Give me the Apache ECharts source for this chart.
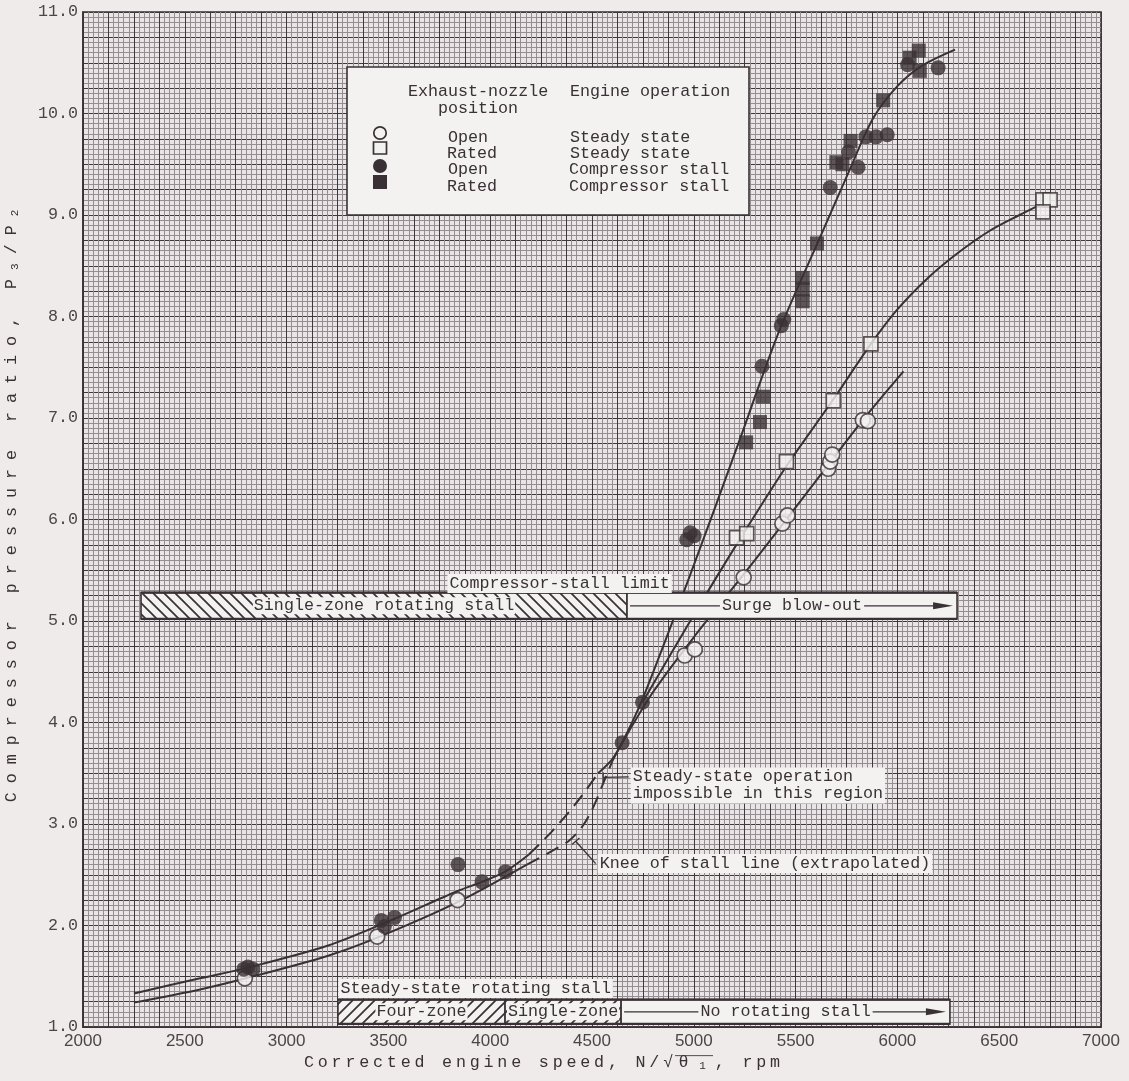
<!DOCTYPE html>
<html>
<head>
<meta charset="utf-8">
<script src="https://cdn.jsdelivr.net/npm/echarts@6/dist/echarts.min.js"></script>
<style>
  html, body { margin: 0; padding: 0; background: #efebeb; }
  #chart { width: 1129px; height: 1081px; }
</style>
</head>
<body>
<div id="chart"></div>
<script>
// Compressor pressure ratio P3/P2 against corrected engine speed, with stall regions.

// ---- measured points ----
const openSteadyRpm   = [2795, 3445, 3840, 4955, 5005, 5245, 5435, 5460, 5660, 5670, 5680, 5830, 5855];
const openSteadyRatio = [1.48, 1.89, 2.25, 4.66, 4.72, 5.43, 5.96, 6.04, 6.50, 6.57, 6.64, 6.98, 6.97];

const ratedSteadyRpm   = [5210, 5260, 5455, 5685, 5870, 6715, 6750, 6715];
const ratedSteadyRatio = [5.82, 5.86, 6.57, 7.17, 7.73, 9.15, 9.15, 9.03];

const openStallRpm   = [2790, 2810, 2835, 3465, 3480, 3530, 3842, 3960, 4075, 4648, 4748, 4965, 4982, 5002,
                        5335, 5430, 5442, 5670, 5760, 5807, 5845, 5895, 5950, 6050, 6200];
const openStallRatio = [1.57, 1.59, 1.57, 2.05, 1.99, 2.08, 2.60, 2.43, 2.53, 3.80, 4.20, 5.80, 5.87, 5.84,
                        7.51, 7.91, 7.97, 9.27, 9.62, 9.47, 9.77, 9.77, 9.79, 10.48, 10.45];

const ratedStallRpm   = [5257, 5325, 5340, 5535, 5535, 5535, 5605, 5700, 5730, 5770, 5930, 6060, 6105, 6110];
const ratedStallRatio = [6.76, 6.96, 7.21, 8.15, 8.27, 8.38, 8.72, 9.52, 9.50, 9.73, 10.13, 10.55, 10.62, 10.42];

// ---- faired curves ----
const stallLineRpm   = [4530, 4600, 4648, 4750, 5000, 5210, 5420, 5620, 5760, 5880, 6000, 6120, 6283];
const stallLineRatio = [3.50, 3.64, 3.80, 4.24, 5.55, 6.70, 7.86, 8.78, 9.42, 9.95, 10.27, 10.47, 10.63];

const ratedLineRpm   = [4748, 5000, 5212, 5453, 5684, 5870, 6000, 6150, 6300, 6450, 6600, 6700];
const ratedLineRatio = [4.20, 5.06, 5.76, 6.52, 7.18, 7.73, 8.07, 8.38, 8.63, 8.84, 9.00, 9.10];

const openLineRpm   = [4600, 4648, 4800, 5000, 5300, 5600, 5830, 6030];
const openLineRatio = [3.62, 3.80, 4.30, 4.84, 5.60, 6.38, 6.98, 7.46];

const lowStallRpm   = [2250, 2575, 2800, 3200, 3500, 3840, 3960, 4073, 4190];
const lowStallRatio = [1.33, 1.48, 1.58, 1.80, 2.04, 2.34, 2.43, 2.53, 2.70];

const lowSteadyRpm   = [2250, 2575, 2800, 3200, 3445, 3840, 4180];
const lowSteadyRatio = [1.24, 1.37, 1.48, 1.70, 1.88, 2.23, 2.60];

const upperDashRpm   = [4190, 4300, 4420, 4530];
const upperDashRatio = [2.70, 2.92, 3.20, 3.50];

const lowerDashRpm   = [4180, 4300, 4390, 4450, 4500, 4555, 4600];
const lowerDashRatio = [2.60, 2.73, 2.84, 2.97, 3.14, 3.40, 3.62];

// ---- operating-range bars ----
const bandFrom = [2285, 4672, 3252, 4073, 4643];
const bandTo   = [4672, 6293, 4073, 4643, 6258];
const bandLow  = [5.02, 5.02, 1.03, 1.03, 1.03];
const bandHigh = [5.28, 5.28, 1.27, 1.27, 1.27];
const bandText = ['Single-zone rotating stall', 'Surge blow-out', 'Four-zone', 'Single-zone', 'No rotating stall'];

// ---- notes ----
const noteText = ['Compressor-stall limit', 'Steady-state operation\nimpossible in this region',
                  'Knee of stall line (extrapolated)', 'Steady-state rotating stall'];
const noteRpm   = [3790, 4690, 4528, 3255];
const noteRatio = [5.37, 3.38, 2.61, 1.38];
const noteTargetRpm   = [null, 4555, 4420, null];
const noteTargetRatio = [null, 3.46, 2.83, null];

// ---- axis ticks ----
const xTickLabels = [2000, 2500, 3000, 3500, 4000, 4500, 5000, 5500, 6000, 6500, 7000];
const yTickLabels = [1, 2, 3, 4, 5, 6, 7, 8, 9, 10, 11];

const INK = '#393135';
const PAPER = '#f4f1f1';
const MONO = '"Liberation Mono", "DejaVu Sans Mono", monospace';
const FS = 16.7;

const zip = (a, b) => a.map((v, i) => [v, b[i]]);

function hatch(dir) {
  const s = 11;
  const c = document.createElement('canvas');
  c.width = c.height = s;
  const g = c.getContext('2d');
  g.fillStyle = PAPER;
  g.fillRect(0, 0, s, s);
  g.strokeStyle = INK;
  g.lineWidth = 1.7;
  g.beginPath();
  if (dir > 0) {
    g.moveTo(-2, s + 2); g.lineTo(s + 2, -2);
    g.moveTo(-2, 2); g.lineTo(2, -2);
    g.moveTo(s - 2, s + 2); g.lineTo(s + 2, s - 2);
  } else {
    g.moveTo(-2, -2); g.lineTo(s + 2, s + 2);
    g.moveTo(s - 2, -2); g.lineTo(s + 2, 2);
    g.moveTo(-2, s - 2); g.lineTo(2, s + 2);
  }
  g.stroke();
  return c;
}
const hatchBack = hatch(-1);
const hatchFwd = hatch(1);

const overline = (function () {
  const c = document.createElement('canvas');
  c.width = 20; c.height = 20;
  const g = c.getContext('2d');
  g.fillStyle = INK;
  g.fillRect(0, 0, 20, 1.6);
  return c;
})();

const measureCtx = document.createElement('canvas').getContext('2d');
function textWidth(t) {
  measureCtx.font = FS + 'px ' + MONO;
  return measureCtx.measureText(t).width;
}

// Typewriter-spaced title: every character becomes its own rich token with side padding.
// Parts are [text, styleName]; styleName 's' marks a subscript, 'o'/'os' carry an overline.
function spacedTitle(parts, gap) {
  let out = '';
  parts.forEach(([txt, kind]) => {
    for (const ch of txt) out += '{' + (kind || 'c') + '|' + ch + '}';
  });
  const pad = [0, gap / 2];
  const base = { fontSize: FS, fontFamily: MONO, fill: INK, lineHeight: 18, padding: pad };
  const sub = { fontSize: 11, fontFamily: MONO, fill: INK, lineHeight: 12, padding: [6, gap / 2, 0, gap / 2] };
  return {
    text: out,
    rich: {
      c: base,
      s: sub,
      o: Object.assign({}, base, { padding: [0, 0], backgroundColor: { image: overline } }),
      os: Object.assign({}, sub, { backgroundColor: { image: overline } })
    }
  };
}

const bandStyle = {
  'Single-zone rotating stall': 'back',
  'Surge blow-out': 'arrow',
  'Four-zone': 'fwd',
  'Single-zone': 'fwd',
  'No rotating stall': 'arrow'
};

function renderBand(params, api) {
  const i = params.dataIndex;
  const tl = api.coord([api.value(0), api.value(3)]);
  const br = api.coord([api.value(1), api.value(2)]);
  const w = br[0] - tl[0], h = br[1] - tl[1];
  const label = bandText[i];
  const kind = bandStyle[label];
  const cx = tl[0] + w / 2, cy = tl[1] + h / 2;
  const children = [];
  let fill = PAPER;
  if (kind === 'back') fill = { image: hatchBack, repeat: 'repeat' };
  if (kind === 'fwd') fill = { image: hatchFwd, repeat: 'repeat' };
  children.push({ type: 'rect', shape: { x: tl[0], y: tl[1], width: w, height: h },
    style: { fill: fill, stroke: INK, lineWidth: 1.6 } });
  children.push({ type: 'line', shape: { x1: tl[0], y1: tl[1], x2: br[0], y2: tl[1] }, style: { stroke: INK, lineWidth: 2.2 } });
  children.push({ type: 'line', shape: { x1: tl[0], y1: br[1], x2: br[0], y2: br[1] }, style: { stroke: INK, lineWidth: 2.2 } });
  if (kind === 'arrow') {
    const tw = textWidth(label);
    const right = br[0] - 4;
    children.push({ type: 'line', shape: { x1: tl[0] + 3, y1: cy, x2: cx - tw / 2 - 2, y2: cy }, style: { stroke: INK, lineWidth: 1.2 } });
    children.push({ type: 'line', shape: { x1: cx + tw / 2 + 2, y1: cy, x2: right - 14, y2: cy }, style: { stroke: INK, lineWidth: 1.2 } });
    children.push({ type: 'polygon', shape: { points: [[right - 20, cy - 3.5], [right, cy], [right - 20, cy + 3.5]] }, style: { fill: INK } });
    children.push({ type: 'text', x: cx, y: cy, style: { text: label, fontSize: FS, fontFamily: MONO, fill: INK, align: 'center', verticalAlign: 'middle' } });
  } else {
    children.push({ type: 'text', x: cx, y: cy, style: { text: label, fontSize: FS, fontFamily: MONO, fill: INK,
      align: 'center', verticalAlign: 'middle', backgroundColor: PAPER, padding: [0, 1], lineHeight: 17 } });
  }
  return { type: 'group', children: children };
}

function renderNote(params, api) {
  const i = params.dataIndex;
  const p = api.coord([noteRpm[i], noteRatio[i]]);
  const lines = noteText[i].split('\n').length;
  const children = [];
  if (noteTargetRpm[i] !== null) {
    const t = api.coord([noteTargetRpm[i], noteTargetRatio[i]]);
    const sy = p[1] - (lines - 1) * 8.5;
    const sx = p[0] - 2;
    children.push({ type: 'line', shape: { x1: sx, y1: sy, x2: t[0], y2: t[1] }, style: { stroke: INK, lineWidth: 1.3 } });
    const dx = t[0] - sx, dy = t[1] - sy, len = Math.hypot(dx, dy) || 1;
    const nx = -dy / len * 5, ny = dx / len * 5;
    children.push({ type: 'line', shape: { x1: t[0] - nx, y1: t[1] - ny, x2: t[0] + nx, y2: t[1] + ny }, style: { stroke: INK, lineWidth: 1.3 } });
  }
  children.push({ type: 'text', x: p[0], y: p[1], style: { text: noteText[i], fontSize: FS, fontFamily: MONO, fill: INK,
    align: 'left', verticalAlign: 'middle', lineHeight: 17, backgroundColor: PAPER, padding: [1, 2] } });
  return { type: 'group', children: children };
}

const lineStyleSolid = { color: INK, width: 2 };
const lineStyleDash = { color: INK, width: 2, type: [14, 8] };

function curve(name, xs, ys, dashed) {
  return { name: name, type: 'line', data: zip(xs, ys), symbol: 'none', smooth: 0.3,
    lineStyle: dashed ? lineStyleDash : lineStyleSolid, z: 2, silent: true };
}

function points(name, xs, ys, symbol, filled) {
  return { name: name, type: 'scatter', data: zip(xs, ys), symbol: symbol, symbolSize: symbol === 'rect' ? 14 : 15, z: 3,
    itemStyle: filled ? { color: INK } : { color: PAPER, borderColor: INK, borderWidth: 1.7 } };
}

const chart = echarts.init(document.getElementById('chart'), null, { renderer: 'canvas' });

const yTitle = spacedTitle([['Compressor pressure ratio, P'], ['3', 's'], ['/P'], ['2', 's']], 9);
const xTitle = spacedTitle([['Corrected engine speed, N/√'], ['θ', 'o'], ['1', 'os'], [', rpm']], 3.8);

const keyText = (x, y, t) => ({ type: 'text', x: x, y: y, z: 21,
  style: { text: t, fontSize: FS, fontFamily: MONO, fill: INK, verticalAlign: 'middle' } });

chart.setOption({
  animation: false,
  backgroundColor: '#efebeb',
  grid: { left: 83, right: 28, top: 12, bottom: 54, show: true, borderColor: INK, borderWidth: 1.6, backgroundColor: '#e9e4e5' },
  xAxis: {
    type: 'value', min: 2000, max: 7000, interval: 125,
    axisLine: { show: true, lineStyle: { color: INK, width: 1.6 } },
    axisTick: { show: false },
    axisLabel: {
      margin: 6, color: '#4b4548', fontSize: 17, fontFamily: '"Liberation Sans", Arial, sans-serif',
      formatter: v => (xTickLabels.indexOf(v) >= 0 ? String(v) : '')
    },
    splitLine: { show: true, lineStyle: { color: '#40393c', width: 1 } },
    minorTick: { show: false, splitNumber: 5 },
    minorSplitLine: { show: true, lineStyle: { color: '#958e91', width: 1 } }
  },
  yAxis: {
    type: 'value', min: 1, max: 11, interval: 0.25,
    axisLine: { show: true, lineStyle: { color: INK, width: 1.6 } },
    axisTick: { show: false },
    axisLabel: {
      margin: 5, color: '#4b4548', fontSize: FS, fontFamily: MONO,
      formatter: v => {
        const r = Math.round(v);
        return (Math.abs(v - r) < 1e-6 && yTickLabels.indexOf(r) >= 0) ? r.toFixed(1) : '';
      }
    },
    splitLine: { show: true, lineStyle: { color: '#40393c', width: 1 } },
    minorTick: { show: false, splitNumber: 5 },
    minorSplitLine: { show: true, lineStyle: { color: '#958e91', width: 1 } }
  },
  series: [
    curve('Stall line', stallLineRpm, stallLineRatio, false),
    curve('Rated steady line', ratedLineRpm, ratedLineRatio, false),
    curve('Open steady line', openLineRpm, openLineRatio, false),
    curve('Low-speed stall line', lowStallRpm, lowStallRatio, false),
    curve('Low-speed steady line', lowSteadyRpm, lowSteadyRatio, false),
    curve('Stall knee upper', upperDashRpm, upperDashRatio, true),
    curve('Stall knee lower', lowerDashRpm, lowerDashRatio, true),
    points('Open, steady state', openSteadyRpm, openSteadyRatio, 'circle', false),
    points('Rated, steady state', ratedSteadyRpm, ratedSteadyRatio, 'rect', false),
    points('Open, compressor stall', openStallRpm, openStallRatio, 'circle', true),
    points('Rated, compressor stall', ratedStallRpm, ratedStallRatio, 'rect', true),
    {
      name: 'Operating ranges', type: 'custom', renderItem: renderBand, z: 4, silent: true,
      data: bandFrom.map((v, i) => [v, bandTo[i], bandLow[i], bandHigh[i]])
    },
    {
      name: 'Notes', type: 'custom', renderItem: renderNote, z: 5, silent: true,
      data: noteRpm.map((v, i) => [v, noteRatio[i]])
    }
  ],
  graphic: [
    // axis titles
    {
      type: 'text', x: 12, y: 506, rotation: Math.PI / 2, z: 10,
      style: Object.assign({ fontSize: FS, fontFamily: MONO, fill: INK, align: 'center', verticalAlign: 'middle' }, yTitle)
    },
    {
      type: 'text', x: 542, y: 1063, z: 10,
      style: Object.assign({ fontSize: FS, fontFamily: MONO, fill: INK, align: 'center', verticalAlign: 'middle' }, xTitle)
    },
    // key
    { type: 'rect', z: 20, shape: { x: 347, y: 67, width: 402, height: 148 }, style: { fill: PAPER, stroke: INK, lineWidth: 1.6 } },
    keyText(408, 92, 'Exhaust-nozzle'),
    keyText(438, 109, 'position'),
    keyText(570, 92, 'Engine operation'),
    keyText(448, 138, 'Open'),
    keyText(447, 154, 'Rated'),
    keyText(448, 170, 'Open'),
    keyText(447, 187, 'Rated'),
    keyText(570, 138, 'Steady state'),
    keyText(570, 154, 'Steady state'),
    keyText(569, 170, 'Compressor stall'),
    keyText(569, 187, 'Compressor stall'),
    { type: 'circle', z: 21, shape: { cx: 380, cy: 133, r: 6.2 }, style: { fill: PAPER, stroke: INK, lineWidth: 1.7 } },
    { type: 'rect', z: 21, shape: { x: 373.5, y: 142, width: 13, height: 12 }, style: { fill: PAPER, stroke: INK, lineWidth: 1.7 } },
    { type: 'circle', z: 21, shape: { cx: 380, cy: 166, r: 7 }, style: { fill: INK } },
    { type: 'rect', z: 21, shape: { x: 373, y: 175, width: 14, height: 14 }, style: { fill: INK } }
  ]
});
</script>
</body>
</html>
